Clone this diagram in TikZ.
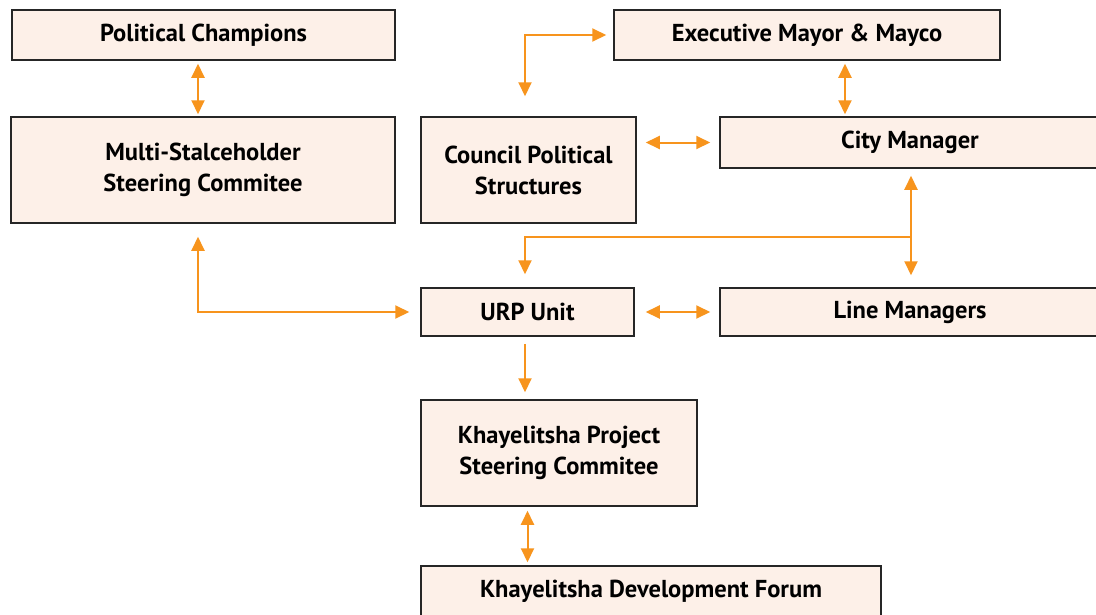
\documentclass[tikz,border=0pt]{standalone}
\usepackage{fontspec}
\setmainfont{PT Sans}
\usetikzlibrary{arrows.meta,positioning,calc}
\definecolor{peach}{HTML}{FDF0E8}
\definecolor{linkorange}{HTML}{F7941D}

\begin{document}
\begin{tikzpicture}[x=1pt, y=-1pt,
        box/.style={draw=black!85, line width=1.5pt, fill=peach, align=center, inner sep=0pt, font=\fontsize{24.5}{31}\selectfont\bfseries},
        link/.style={linkorange, line width=2pt, {Triangle[length=14pt,width=13pt]}-{Triangle[length=14pt,width=13pt]}},
        arrow/.style={linkorange, line width=2pt, -{Triangle[length=14pt,width=13pt]}}
    ]
    \useasboundingbox (0,0) rectangle (1096,614);
    \fill[white] (0,0) rectangle (1096,614);
    % Boxes
    \node[box, minimum width=383pt, minimum height=50pt] (pc) at (203.5,35) {Political Champions};
    \node[box, minimum width=384pt, minimum height=106pt] (msc) at (203,170) {Multi-Stalceholder\\Steering Commitee};
    \node[box, minimum width=386pt, minimum height=50pt] (exec) at (807,35) {Executive Mayor \& Mayco};
    \node[box, minimum width=215pt, minimum height=106pt] (council) at (528.5,170) {Council Political\\Structures};
    \node[box, minimum width=380pt, minimum height=51pt] (cm) at (910,142.5) {City Manager};
    \node[box, minimum width=213pt, minimum height=48pt] (urp) at (527.5,312) {URP Unit};
    \node[box, minimum width=380pt, minimum height=48pt] (lm) at (910,312) {Line Managers};
    \node[box, minimum width=276pt, minimum height=106pt] (kpsc) at (559,453) {Khayelitsha Project\\Steering Commitee};
    \node[box, minimum width=460pt, minimum height=50pt] (kdf) at (651,591) {Khayelitsha Development Forum};
    % Links
    \draw[link, shorten <=3pt, shorten >=2pt] ([xshift=-5pt]msc.north |- pc.south) -- ([xshift=-5pt]msc.north);
    \draw[link] ([xshift=-3.5pt,yshift=20pt]council.north) |- ([xshift=-7pt]exec.west);
    \draw[link, shorten <=3pt, shorten >=2pt] ([xshift=38pt]exec.south) -- ([xshift=38pt]exec.south |- cm.north);
    \draw[link, shorten <=9pt, shorten >=9pt] (council.east |- cm.west) -- (cm.west);
    \draw[link, shorten <=7pt, shorten >=12pt] ([xshift=1pt]cm.south) -- ([xshift=1pt]lm.north);
    \coordinate (jn) at (911,237);
    \draw[arrow] (jn) -| ([xshift=-2.5pt,yshift=13pt]urp.north);
    \draw[link] ([xshift=-5pt,yshift=-13pt]msc.south) |- ([xshift=-11pt]urp.west);
    \draw[link, shorten <=11pt, shorten >=9pt] (urp.east) -- (lm.west);
    \draw[arrow] ([xshift=-2.5pt,yshift=-7pt]urp.south) -- ([xshift=-2.5pt,yshift=7pt]urp.south |- kpsc.north);
    \draw[link] ([yshift=-4pt]urp.south |- kpsc.south) -- ([yshift=3pt]urp.south |- kdf.north);
\end{tikzpicture}
\end{document}
